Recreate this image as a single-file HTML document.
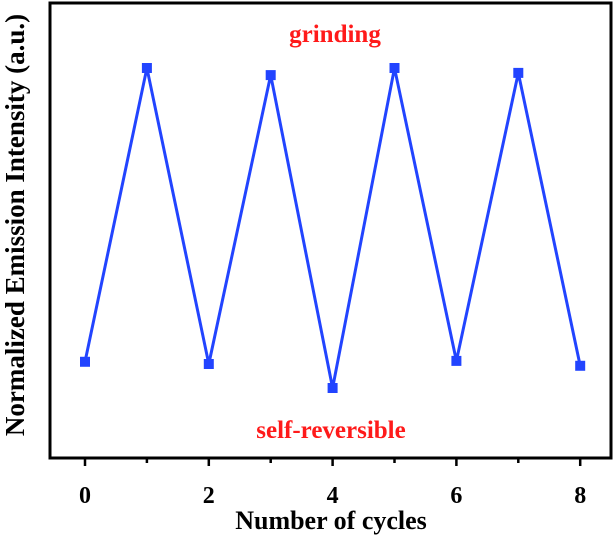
<!DOCTYPE html>
<html><head><meta charset="utf-8"><style>
body{margin:0;background:#fff;}
svg{display:block;font-family:"Liberation Serif",serif;font-weight:bold;}
</style></head><body>
<svg width="615" height="537" viewBox="0 0 615 537">
<rect x="50" y="3" width="561" height="455" fill="none" stroke="#000" stroke-width="3"/>
<g id="ticks"></g>
<g id="series"></g>
<text x="335" y="42" fill="#ff1a1a" font-size="25" text-anchor="middle">grinding</text>
<text x="331" y="438" fill="#ff1a1a" font-size="25" text-anchor="middle">self-reversible</text>
<text x="331" y="529" font-size="26" text-anchor="middle">Number of cycles</text>
<text transform="translate(24,225) rotate(-90)" font-size="27" text-anchor="middle">Normalized Emission Intensity (a.u.)</text>
</svg>
<script>
const cycles=[0,1,2,3,4,5,6,7,8];
const intensity=[0.941,0.28,0.946,0.296,1.0,0.28,0.939,0.291,0.95];
const tickValues=[0,1,2,3,4,5,6,7,8];
const tickLabels=["0","","2","","4","","6","","8"];
const NS="http://www.w3.org/2000/svg";
const xs=v=>85+v*61.9;
const ys=v=>68+(v-0.28)*(388-68)/(1.0-0.28);
const tg=document.getElementById('ticks');
tickValues.forEach((v,i)=>{
 const l=document.createElementNS(NS,'line');
 l.setAttribute('x1',xs(v));l.setAttribute('x2',xs(v));
 l.setAttribute('y1',458);l.setAttribute('y2',tickLabels[i]?466:463);
 l.setAttribute('stroke','#000');l.setAttribute('stroke-width',2.5);
 
 
 tg.appendChild(l);
 if(tickLabels[i]){
  const t=document.createElementNS(NS,'text');
  t.setAttribute('x',xs(v));t.setAttribute('y',503);
  t.setAttribute('text-anchor','middle');t.setAttribute('font-size',24);
  t.textContent=tickLabels[i];
  
  
  tg.appendChild(t);
 }
});
const sg=document.getElementById('series');
const p=document.createElementNS(NS,'polyline');
p.setAttribute('points',cycles.map((c,i)=>xs(c)+','+ys(intensity[i])).join(' '));
p.setAttribute('fill','none');p.setAttribute('stroke','#2244ff');p.setAttribute('stroke-width',3);


sg.appendChild(p);
cycles.forEach((c,i)=>{
 const r=document.createElementNS(NS,'rect');
 r.setAttribute('x',xs(c)-5);r.setAttribute('y',ys(intensity[i])-5);
 r.setAttribute('width',10);r.setAttribute('height',10);r.setAttribute('fill','#2244ff');
 
 
 sg.appendChild(r);
});
</script>
</body></html>
